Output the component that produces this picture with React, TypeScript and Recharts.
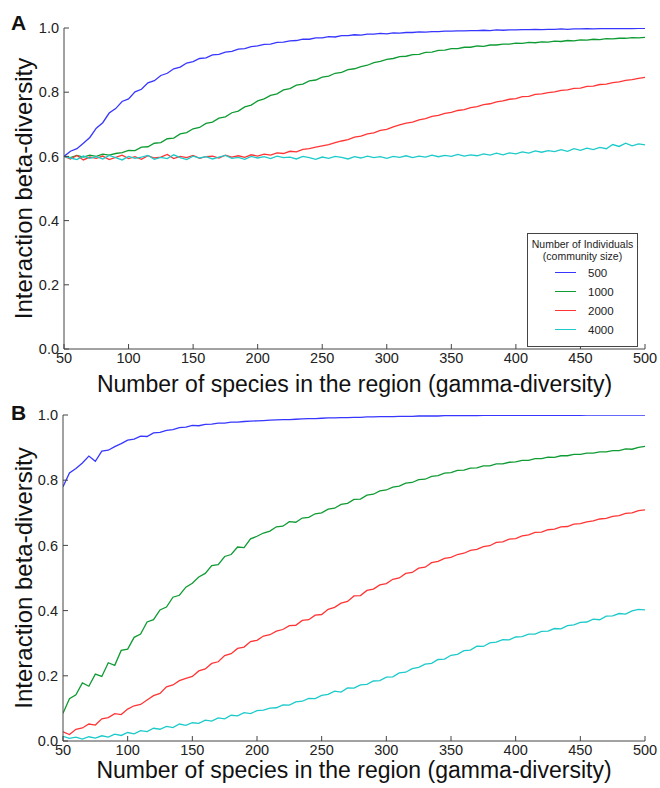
import React from 'react';
import { LineChart, Line, XAxis, YAxis, Legend } from 'recharts';

const xs = [
  50, 55, 60, 65, 70, 75, 80, 85, 90, 95,
  100, 105, 110, 115, 120, 125, 130, 135, 140, 145,
  150, 155, 160, 165, 170, 175, 180, 185, 190, 195,
  200, 205, 210, 215, 220, 225, 230, 235, 240, 245,
  250, 255, 260, 265, 270, 275, 280, 285, 290, 295,
  300, 305, 310, 315, 320, 325, 330, 335, 340, 345,
  350, 355, 360, 365, 370, 375, 380, 385, 390, 395,
  400, 405, 410, 415, 420, 425, 430, 435, 440, 445,
  450, 455, 460, 465, 470, 475, 480, 485, 490, 495,
  500,
];

// Panel A
const aBlue = [
  0.600, 0.616, 0.624, 0.641, 0.659, 0.688, 0.705, 0.735, 0.749, 0.771,
  0.779, 0.801, 0.809, 0.829, 0.836, 0.852, 0.859, 0.873, 0.878, 0.891,
  0.895, 0.905, 0.907, 0.916, 0.918, 0.925, 0.927, 0.934, 0.936, 0.942,
  0.944, 0.949, 0.950, 0.955, 0.956, 0.960, 0.961, 0.965, 0.965, 0.969,
  0.969, 0.973, 0.972, 0.976, 0.976, 0.979, 0.978, 0.981, 0.981, 0.983,
  0.982, 0.985, 0.984, 0.986, 0.986, 0.988, 0.987, 0.989, 0.989, 0.990,
  0.990, 0.991, 0.991, 0.992, 0.992, 0.993, 0.992, 0.994, 0.993, 0.994,
  0.994, 0.995, 0.995, 0.996, 0.995, 0.996, 0.996, 0.997, 0.996, 0.997,
  0.997, 0.998, 0.997, 0.998, 0.998, 0.998, 0.998, 0.999, 0.998, 0.999,
  0.999,
];
const aGreen = [
  0.600, 0.596, 0.603, 0.598, 0.604, 0.600, 0.607, 0.604, 0.609, 0.612,
  0.619, 0.618, 0.629, 0.630, 0.641, 0.643, 0.655, 0.657, 0.670, 0.674,
  0.686, 0.690, 0.703, 0.707, 0.719, 0.723, 0.736, 0.741, 0.754, 0.760,
  0.773, 0.779, 0.790, 0.795, 0.807, 0.811, 0.822, 0.825, 0.835, 0.838,
  0.847, 0.850, 0.859, 0.862, 0.870, 0.873, 0.880, 0.884, 0.892, 0.896,
  0.902, 0.905, 0.911, 0.912, 0.917, 0.918, 0.924, 0.925, 0.930, 0.931,
  0.936, 0.936, 0.940, 0.940, 0.944, 0.943, 0.947, 0.947, 0.950, 0.950,
  0.953, 0.952, 0.955, 0.954, 0.957, 0.956, 0.959, 0.958, 0.961, 0.960,
  0.963, 0.962, 0.965, 0.964, 0.967, 0.966, 0.968, 0.968, 0.970, 0.969,
  0.971,
];
const aRed = [
  0.600, 0.592, 0.603, 0.589, 0.598, 0.594, 0.601, 0.590, 0.597, 0.604,
  0.593, 0.599, 0.591, 0.602, 0.595, 0.598, 0.606, 0.593, 0.600, 0.596,
  0.603, 0.594, 0.599, 0.601, 0.595, 0.604, 0.598, 0.602, 0.597, 0.605,
  0.601, 0.607, 0.604, 0.611, 0.609, 0.616, 0.614, 0.622, 0.624, 0.629,
  0.633, 0.637, 0.643, 0.648, 0.652, 0.660, 0.663, 0.670, 0.673, 0.681,
  0.684, 0.692, 0.698, 0.704, 0.707, 0.714, 0.718, 0.725, 0.728, 0.734,
  0.737, 0.743, 0.746, 0.752, 0.755, 0.761, 0.764, 0.770, 0.773, 0.778,
  0.780, 0.786, 0.787, 0.793, 0.795, 0.799, 0.801, 0.806, 0.807, 0.812,
  0.813, 0.818, 0.819, 0.824, 0.825, 0.830, 0.832, 0.837, 0.839, 0.843,
  0.846,
];
const aCyan = [
  0.600, 0.595, 0.590, 0.601, 0.594, 0.599, 0.592, 0.603, 0.596, 0.589,
  0.600, 0.594, 0.598, 0.603, 0.591, 0.597, 0.593, 0.605, 0.596, 0.590,
  0.601, 0.595, 0.599, 0.592, 0.598, 0.603, 0.594, 0.597, 0.591, 0.600,
  0.595, 0.599, 0.593, 0.601, 0.596, 0.598, 0.592, 0.600, 0.596, 0.591,
  0.598, 0.594, 0.600, 0.597, 0.592, 0.599, 0.595, 0.601, 0.596, 0.599,
  0.594, 0.600, 0.597, 0.602, 0.596, 0.601, 0.598, 0.604, 0.599, 0.603,
  0.600, 0.606, 0.601, 0.605, 0.602, 0.608, 0.604, 0.610, 0.605, 0.611,
  0.608, 0.614, 0.610, 0.617, 0.613, 0.618, 0.615, 0.621, 0.616, 0.624,
  0.619, 0.626, 0.621, 0.628, 0.624, 0.637, 0.631, 0.641, 0.633, 0.639,
  0.636,
];

// Panel B
const bBlue = [
  0.780, 0.822, 0.836, 0.853, 0.874, 0.858, 0.889, 0.892, 0.903, 0.912,
  0.923, 0.926, 0.935, 0.934, 0.945, 0.947, 0.953, 0.955, 0.961, 0.963,
  0.968, 0.967, 0.971, 0.972, 0.975, 0.975, 0.978, 0.978, 0.980, 0.981,
  0.982, 0.983, 0.984, 0.985, 0.986, 0.986, 0.987, 0.988, 0.989, 0.989,
  0.990, 0.991, 0.991, 0.992, 0.992, 0.993, 0.993, 0.994, 0.994, 0.995,
  0.995, 0.995, 0.996, 0.996, 0.996, 0.997, 0.997, 0.997, 0.997, 0.998,
  0.998, 0.998, 0.998, 0.998, 0.998, 0.999, 0.999, 0.999, 0.999, 0.999,
  0.999, 0.999, 0.999, 0.999, 0.999, 0.999, 0.999, 0.999, 0.999, 0.999,
  0.999, 1.000, 1.000, 1.000, 1.000, 1.000, 1.000, 1.000, 1.000, 1.000,
  1.000,
];
const bGreen = [
  0.085, 0.130, 0.142, 0.178, 0.168, 0.205, 0.198, 0.240, 0.232, 0.278,
  0.282, 0.318, 0.328, 0.365, 0.372, 0.402, 0.411, 0.441, 0.447, 0.472,
  0.484, 0.503, 0.514, 0.538, 0.541, 0.566, 0.572, 0.595, 0.593, 0.620,
  0.628, 0.638, 0.644, 0.657, 0.659, 0.673, 0.671, 0.684, 0.686, 0.697,
  0.700, 0.711, 0.714, 0.726, 0.729, 0.741, 0.742, 0.754, 0.757, 0.767,
  0.770, 0.779, 0.782, 0.791, 0.793, 0.802, 0.803, 0.812, 0.814, 0.822,
  0.823, 0.830, 0.831, 0.837, 0.838, 0.844, 0.844, 0.850, 0.850, 0.855,
  0.856, 0.861, 0.861, 0.866, 0.866, 0.871, 0.870, 0.875, 0.875, 0.879,
  0.879, 0.883, 0.883, 0.887, 0.887, 0.891, 0.891, 0.896, 0.895, 0.901,
  0.904,
];
const bRed = [
  0.028, 0.020, 0.036, 0.040, 0.052, 0.049, 0.068, 0.072, 0.084, 0.081,
  0.098, 0.108, 0.112, 0.126, 0.139, 0.146, 0.166, 0.172, 0.185, 0.192,
  0.198, 0.215, 0.221, 0.238, 0.243, 0.262, 0.268, 0.284, 0.288, 0.305,
  0.309, 0.322, 0.326, 0.337, 0.342, 0.354, 0.355, 0.370, 0.372, 0.386,
  0.388, 0.404, 0.410, 0.423, 0.428, 0.445, 0.446, 0.462, 0.466, 0.479,
  0.483, 0.496, 0.500, 0.514, 0.517, 0.530, 0.533, 0.547, 0.551, 0.560,
  0.563, 0.572, 0.576, 0.585, 0.588, 0.596, 0.599, 0.609, 0.611, 0.619,
  0.621, 0.629, 0.632, 0.640, 0.641, 0.648, 0.650, 0.657, 0.658, 0.665,
  0.667, 0.672, 0.675, 0.681, 0.683, 0.689, 0.691, 0.698, 0.700, 0.707,
  0.709,
];
const bCyan = [
  0.014, 0.008, 0.012, 0.006, 0.013, 0.009, 0.016, 0.012, 0.021, 0.017,
  0.026, 0.022, 0.032, 0.029, 0.039, 0.036, 0.045, 0.041, 0.052, 0.048,
  0.056, 0.054, 0.064, 0.061, 0.071, 0.068, 0.079, 0.077, 0.087, 0.084,
  0.093, 0.095, 0.101, 0.102, 0.111, 0.110, 0.120, 0.122, 0.131, 0.130,
  0.140, 0.143, 0.153, 0.150, 0.163, 0.162, 0.172, 0.174, 0.184, 0.185,
  0.196, 0.197, 0.209, 0.211, 0.222, 0.226, 0.236, 0.238, 0.250, 0.251,
  0.263, 0.266, 0.277, 0.279, 0.291, 0.290, 0.301, 0.303, 0.311, 0.310,
  0.319, 0.320, 0.328, 0.328, 0.336, 0.337, 0.345, 0.344, 0.354, 0.356,
  0.364, 0.365, 0.374, 0.372, 0.383, 0.384, 0.391, 0.389, 0.399, 0.404,
  0.402,
];

const seriesNames = ['500', '1000', '2000', '4000'];
const seriesColors = ['#3636ff', '#0f9b33', '#ff3535', '#1ccaca'];
const xTicks = [50, 100, 150, 200, 250, 300, 350, 400, 450, 500];
const yTicks = [0, 0.2, 0.4, 0.6, 0.8, 1.0];
const xLabel = 'Number of species in the region (gamma-diversity)';
const yLabel = 'Interaction beta-diversity';
const legendTitle = ['Number of Individuals', '(community size)'];
const panelLetters = ['A', 'B'];

const FONT = "'Liberation Sans', Arial, Helvetica, sans-serif";
const AXIS = '#444';

const buildRows = (series: number[][]) =>
  xs.map((x, i) => ({ x, s0: series[0][i], s1: series[1][i], s2: series[2][i], s3: series[3][i] }));

const rowsA = buildRows([aBlue, aGreen, aRed, aCyan]);
const rowsB = buildRows([bBlue, bGreen, bRed, bCyan]);

const tickStyle = { fontSize: 14.5, fill: '#222', fontFamily: FONT };

const LegendBox = (props: any) => {
  const raw = (props && props.payload) || [];
  const payload = [...raw].sort(
    (a: any, b: any) => seriesNames.indexOf(String(a.value)) - seriesNames.indexOf(String(b.value)),
  );
  return (
    <div
      style={{
        width: 111,
        height: 114,
        boxSizing: 'border-box',
        border: '1px solid #444',
        background: '#fff',
        fontFamily: FONT,
        color: '#222',
      }}
    >
      <div style={{ fontSize: 10.5, lineHeight: '12px', textAlign: 'center', paddingTop: 4 }}>
        {legendTitle[0]}
        <br />
        {legendTitle[1]}
      </div>
      <div style={{ marginTop: 1 }}>
        {payload.map((p: any) => (
          <div key={p.value} style={{ height: 19, display: 'flex', alignItems: 'center' }}>
            <span
              style={{
                display: 'inline-block',
                marginLeft: 27,
                width: 21,
                height: 0,
                borderTop: `1.5px solid ${p.color}`,
              }}
            />
            <span style={{ marginLeft: 12, fontSize: 11.5 }}>{p.value}</span>
          </div>
        ))}
      </div>
    </div>
  );
};

type PanelProps = {
  rows: any[];
  height: number;
  top: number;
  marginTop: number;
  xAxisHeight: number;
  yAxisWidth: number;
  xLabelOffset: number;
  showLegend: boolean;
};

const Panel = ({ rows, height, top, marginTop, xAxisHeight, yAxisWidth, xLabelOffset, showLegend }: PanelProps) => (
  <div style={{ position: 'absolute', left: 0, top, width: 660, height }}>
    <LineChart
      width={660}
      height={height}
      data={rows}
      margin={{ top: marginTop, right: 15, left: 0, bottom: 0 }}
    >
      <XAxis
        dataKey="x"
        type="number"
        domain={[50, 500]}
        ticks={xTicks}
        interval={0}
        allowDataOverflow
        height={xAxisHeight}
        tickSize={-5}
        tickMargin={9}
        tick={tickStyle}
        stroke={AXIS}
        axisLine={{ stroke: AXIS, strokeWidth: 1 }}
        tickLine={{ stroke: AXIS }}
        label={{
          content: (lp: any) => {
            const vb = lp.viewBox || {};
            return (
              <text
                x={vb.x + vb.width / 2}
                y={vb.y + vb.height - xLabelOffset}
                textAnchor="middle"
                fontSize={23}
                fill="#111"
                fontFamily={FONT}
              >
                {xLabel}
              </text>
            );
          },
        }}
      />
      <XAxis
        xAxisId="top"
        orientation="top"
        dataKey="x"
        type="number"
        domain={[50, 500]}
        ticks={xTicks}
        interval={0}
        allowDataOverflow
        height={0}
        tickSize={-5}
        tick={false}
        axisLine={{ stroke: AXIS, strokeWidth: 1 }}
        tickLine={{ stroke: AXIS }}
      />
      <YAxis
        type="number"
        domain={[0, 1]}
        ticks={yTicks}
        interval={0}
        allowDataOverflow
        width={yAxisWidth}
        tickSize={-5}
        tickMargin={10}
        tick={tickStyle}
        tickFormatter={(v: number) => v.toFixed(1)}
        axisLine={{ stroke: AXIS, strokeWidth: 1 }}
        tickLine={{ stroke: AXIS }}
        label={{
          content: (lp: any) => {
            const vb = lp.viewBox || {};
            const cx = 32;
            const cy = vb.y + vb.height / 2;
            return (
              <text
                x={cx}
                y={cy}
                transform={`rotate(-90, ${cx}, ${cy})`}
                textAnchor="middle"
                fontSize={24}
                fill="#111"
                fontFamily={FONT}
              >
                {yLabel}
              </text>
            );
          },
        }}
      />
      <YAxis
        yAxisId="right"
        orientation="right"
        type="number"
        domain={[0, 1]}
        ticks={yTicks}
        interval={0}
        allowDataOverflow
        width={0}
        tickSize={-5}
        tick={false}
        axisLine={{ stroke: AXIS, strokeWidth: 1 }}
        tickLine={{ stroke: AXIS }}
      />
      {seriesNames.map((name, i) => (
        <Line
          key={name}
          type="linear"
          dataKey={`s${i}`}
          name={name}
          stroke={seriesColors[i]}
          strokeWidth={1.3}
          dot={false}
          activeDot={false}
          isAnimationActive={false}
        />
      ))}
      {showLegend && (
        <Legend
          layout="vertical"
          align="center"
          verticalAlign="middle"
          content={LegendBox}
          wrapperStyle={{ left: 527, top: 233, width: 111, height: 114 }}
        />
      )}
    </LineChart>
  </div>
);

export default function App() {
  return (
    <div
      style={{
        position: 'absolute',
        left: 0,
        top: 0,
        width: 660,
        height: 788,
        background: '#fff',
        overflow: 'hidden',
      }}
    >
      <Panel rows={rowsA} height={400} top={0} marginTop={28} xAxisHeight={51} yAxisWidth={64} xLabelOffset={8} showLegend />
      <Panel rows={rowsB} height={398} top={390} marginTop={25} xAxisHeight={47} yAxisWidth={63} xLabelOffset={10} showLegend={false} />
      <div style={{ position: 'absolute', left: 11, top: 11, fontFamily: FONT, fontWeight: 'bold', fontSize: 21, lineHeight: '24px', color: '#111' }}>
        {panelLetters[0]}
      </div>
      <div style={{ position: 'absolute', left: 11, top: 401, fontFamily: FONT, fontWeight: 'bold', fontSize: 21, lineHeight: '24px', color: '#111' }}>
        {panelLetters[1]}
      </div>
    </div>
  );
}
